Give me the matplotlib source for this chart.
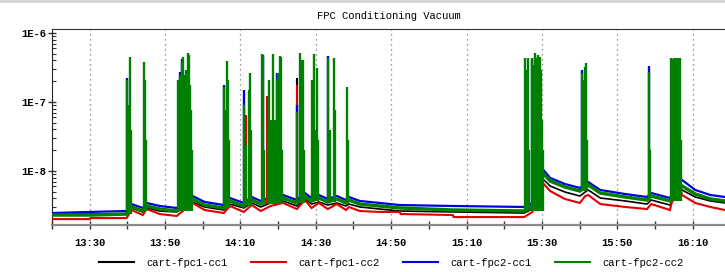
import datetime as dt
import numpy as np
import matplotlib
matplotlib.use("Agg")
import matplotlib.pyplot as plt
import matplotlib.dates as mdates
from matplotlib.ticker import FixedLocator, FuncFormatter, LogLocator, NullFormatter
from matplotlib.lines import Line2D

# ---------------- data (minutes after 13:20) ----------------
series_names = ["cart-fpc1-cc1", "cart-fpc1-cc2", "cart-fpc2-cc1", "cart-fpc2-cc2"]
series_colors = ["#000000", "#e00000", "#0000e6", "#008000"]

base_t = [0, 10, 10.2, 19.8, 21.1, 24.1, 25.1, 28.6, 33.1, 37.3, 40.5, 45.6, 47.2, 50.9,
          53.0, 55.4, 58.0, 61.3, 65.0, 67.1, 68.9, 70.8, 73.2, 75.6, 78.0, 78.8, 81.7,
          87.0, 92.3, 92.5, 106.4, 106.6, 125.3, 127.5, 129.0, 130.0, 132.2, 136.1, 140.1,
          141.5, 142.3, 145.5, 152.1, 157.9, 159.0, 164.0, 166.0, 167.2, 170.7, 174.7, 178.6]

black_base = [2.38e-9, 2.38e-9, 2.38e-9, 2.38e-9, 2.91e-9, 2.55e-9, 2.91e-9, 2.63e-9, 2.55e-9,
              3.56e-9, 3.01e-9, 2.72e-9, 3.32e-9, 2.91e-9, 3.44e-9, 3.01e-9, 3.44e-9, 3.68e-9,
              3.11e-9, 3.93e-9, 3.32e-9, 3.56e-9, 3.21e-9, 3.44e-9, 3.11e-9, 3.32e-9, 3.01e-9,
              2.81e-9, 2.63e-9, 2.63e-9, 2.55e-9, 2.55e-9, 2.46e-9, 2.81e-9, 6.70e-9, 7.92e-9,
              6.06e-9, 4.96e-9, 4.34e-9, 4.96e-9, 5.31e-9, 4.06e-9, 3.68e-9, 3.32e-9, 3.80e-9,
              3.21e-9, 4.64e-9, 5.31e-9, 4.20e-9, 3.68e-9, 3.44e-9]

red_base = [2.01e-9, 2.01e-9, 2.08e-9, 2.08e-9, 2.72e-9, 2.30e-9, 2.81e-9, 2.38e-9, 2.23e-9,
            3.44e-9, 2.72e-9, 2.46e-9, 3.11e-9, 2.55e-9, 3.21e-9, 2.63e-9, 3.11e-9, 3.44e-9,
            2.81e-9, 3.80e-9, 2.91e-9, 3.44e-9, 2.81e-9, 3.32e-9, 2.72e-9, 3.01e-9, 2.63e-9,
            2.55e-9, 2.55e-9, 2.38e-9, 2.30e-9, 2.15e-9, 2.15e-9, 2.55e-9, 2.01e-8, 6.93e-9,
            5.13e-9, 3.93e-9, 3.44e-9, 4.34e-9, 4.49e-9, 3.32e-9, 3.01e-9, 2.81e-9, 3.32e-9,
            2.72e-9, 7.92e-9, 4.49e-9, 3.44e-9, 3.01e-9, 2.72e-9]

blue_base = [2.46e-9, 2.55e-9, 2.55e-9, 2.63e-9, 3.32e-9, 2.91e-9, 3.44e-9, 3.11e-9, 2.91e-9,
             4.34e-9, 3.56e-9, 3.21e-9, 4.06e-9, 3.44e-9, 4.20e-9, 3.68e-9, 4.20e-9, 4.49e-9,
             3.80e-9, 4.80e-9, 4.06e-9, 4.49e-9, 3.93e-9, 4.34e-9, 3.80e-9, 4.20e-9, 3.68e-9,
             3.44e-9, 3.21e-9, 3.21e-9, 3.11e-9, 3.11e-9, 3.01e-9, 3.44e-9, 8.75e-9, 1.10e-8,
             7.92e-9, 6.48e-9, 5.68e-9, 6.48e-9, 6.93e-9, 5.31e-9, 4.64e-9, 4.20e-9, 4.80e-9,
             4.06e-9, 6.27e-9, 7.41e-9, 5.31e-9, 4.49e-9, 4.20e-9]

green_base = [2.30e-9, 2.30e-9, 2.30e-9, 2.38e-9, 3.01e-9, 2.63e-9, 3.11e-9, 2.81e-9, 2.63e-9,
              3.93e-9, 3.21e-9, 2.91e-9, 3.68e-9, 3.11e-9, 3.80e-9, 3.32e-9, 3.80e-9, 4.06e-9,
              3.44e-9, 4.34e-9, 3.68e-9, 4.06e-9, 3.56e-9, 3.93e-9, 3.44e-9, 3.80e-9, 3.32e-9,
              3.11e-9, 2.91e-9, 2.91e-9, 2.72e-9, 2.72e-9, 2.63e-9, 3.11e-9, 7.92e-9, 9.68e-9,
              7.16e-9, 5.87e-9, 5.13e-9, 5.87e-9, 6.27e-9, 4.80e-9, 4.20e-9, 3.80e-9, 4.34e-9,
              3.68e-9, 5.31e-9, 6.06e-9, 4.64e-9, 3.93e-9, 3.68e-9]

# pressure bursts (green trace), time / peak / foot level
spike_t = [19.95, 20.35, 20.74, 21.0,
           24.33, 24.73, 24.99,
           33.36, 33.6, 34.0, 34.3, 34.55, 34.8, 35.1, 35.4, 35.6, 35.9, 36.2, 36.4, 36.7, 37.0, 37.2,
           45.7, 46.1, 46.5, 46.8, 47.05,
           51.0, 51.5, 52.2, 52.5, 52.7,
           55.7, 56.1, 56.3, 57.3, 57.7, 58.1, 58.7, 59.1, 59.6, 60.0, 60.5, 60.8, 61.1,
           65.1, 65.9, 66.3, 66.6, 66.8,
           69.1, 69.6, 70.0, 70.4, 70.7,
           73.3, 73.7, 74.8, 75.1,
           78.2, 78.5,
           125.4, 125.7, 126.2, 126.5, 127.5, 127.8, 128.1, 128.3, 128.6, 128.9, 129.1, 129.4,
           129.7, 130.0, 130.2,
           140.7, 141.1, 141.5, 141.8, 142.0,
           158.3, 158.6,
           164.4, 164.7, 165.0, 165.3, 165.5, 165.8, 166.1, 166.3, 166.6, 166.8]

green_peak = [2.08e-7, 9.0e-8, 4.49e-7, 3.9e-8,
              3.80e-7, 2.08e-7, 2.8e-8,
              2.08e-7, 4.0e-8, 2.46e-7, 1.26e-7, 3.80e-7, 4.49e-7, 2.46e-7, 1.07e-7, 2.91e-7,
              1.49e-7, 5.1e-7, 4.8e-7, 1.76e-7, 7.6e-8, 2.0e-8,
              1.65e-7, 7.6e-8, 3.93e-7, 2.08e-7, 2.8e-8,
              9.0e-8, 2.38e-8, 1.49e-7, 2.63e-7, 3.9e-8,
              4.96e-7, 4.65e-7, 2.0e-8, 3.9e-8, 2.08e-7, 5.5e-8, 4.96e-7, 5.5e-8, 2.08e-7,
              2.63e-7, 4.65e-7, 4.49e-7, 2.0e-8,
              7.1e-8, 5.1e-7, 4.06e-7, 4.06e-7, 2.0e-8,
              2.08e-7, 4.96e-7, 3.9e-8, 3.11e-7, 2.8e-8,
              4.34e-7, 3.9e-8, 4.34e-7, 7.6e-8,
              1.65e-7, 2.8e-8,
              4.34e-7, 2.91e-7, 4.34e-7, 2.0e-8, 4.34e-7, 3.44e-7, 4.49e-7, 5.1e-7, 4.34e-7,
              4.8e-7, 3.80e-7, 4.49e-7, 2.91e-7, 5.5e-8, 2.0e-8,
              2.63e-7, 2.08e-7, 3.21e-7, 3.67e-7, 2.8e-8,
              2.72e-7, 2.0e-8,
              4.34e-7, 4.2e-7, 4.34e-7, 4.06e-7, 4.34e-7, 2.08e-7, 4.34e-7, 4.2e-7, 4.34e-7, 2.8e-8]

spike_foot = ([2.38e-9] * 4 + [2.63e-9] * 3 + [2.63e-9] * 15 + [2.91e-9] * 5 + [3.11e-9] * 5 +
              [3.32e-9] * 13 + [3.44e-9] * 5 + [3.68e-9] * 5 + [3.56e-9] * 4 + [3.44e-9] * 2 +
              [2.63e-9] * 15 + [5.13e-9] * 5 + [3.80e-9] * 2 + [3.68e-9] * 10)

# visible tips of the other traces
blue_tip_t = [19.95, 34.0, 34.55, 45.7, 51.0, 56.1, 59.8, 65.1, 73.3, 127.5, 140.7, 158.3]
blue_tip_v = [2.23e-7, 2.72e-7, 4.2e-7, 1.76e-7, 1.49e-7, 4.8e-7, 2.63e-7, 9.0e-8, 4.65e-7,
              4.06e-7, 2.91e-7, 3.32e-7]
blue_tip_foot = [2.38e-9, 2.63e-9, 2.63e-9, 2.91e-9, 3.11e-9, 3.32e-9, 3.32e-9, 3.44e-9,
                 3.56e-9, 2.63e-9, 5.13e-9, 3.80e-9]
red_tip_t = [51.5, 57.0, 65.1]
red_tip_v = [6.5e-8, 1.22e-7, 1.76e-7]
red_tip_foot = [3.11e-9, 3.32e-9, 3.44e-9]
black_tip_t = [65.1]
black_tip_v = [2.23e-7]
black_tip_foot = [3.44e-9]

START = dt.datetime(2012, 1, 1, 13, 20)
X_END_MIN = 178.6


def tnum(mins):
    return mdates.date2num([START + dt.timedelta(minutes=float(m)) for m in mins])


MONO = ["Liberation Mono", "DejaVu Sans Mono"]
FS = 7.6

fig = plt.figure(figsize=(7.25, 2.72), dpi=100)
ax = fig.add_axes([52 / 725, 1 - 225 / 272, 1 - 52 / 725, (225 - 29) / 272])
ax.set_yscale("log")

bases = [black_base, red_base, blue_base, green_base]
lws = [1.2, 1.5, 1.6, 2.5]
for i, b in enumerate(bases):
    ax.plot(tnum(base_t), b, color=series_colors[i], lw=lws[i], zorder=2 + i,
            solid_joinstyle="miter")

ax.vlines(tnum(black_tip_t), black_tip_foot, black_tip_v, color=series_colors[0], lw=1.5, zorder=6)
ax.vlines(tnum(red_tip_t), red_tip_foot, red_tip_v, color=series_colors[1], lw=1.5, zorder=6.1)
ax.vlines(tnum(blue_tip_t), blue_tip_foot, blue_tip_v, color=series_colors[2], lw=1.7, zorder=6.2)
ax.vlines(tnum(spike_t), spike_foot, green_peak, color=series_colors[3], lw=1.7, zorder=6.3)

ax.set_xlim(tnum([0, X_END_MIN]))
ax.set_ylim(1.65e-9, 1.14e-6)

# y axis
ax.yaxis.set_major_locator(FixedLocator([1e-8, 1e-7, 1e-6]))
ax.yaxis.set_major_formatter(FuncFormatter(lambda v, p: "1E%d" % int(round(np.log10(v)))))
ax.yaxis.set_minor_locator(LogLocator(base=10, subs=np.arange(2, 10)))
ax.yaxis.set_minor_formatter(NullFormatter())

# x axis
ax.xaxis.set_major_locator(mdates.MinuteLocator(byminute=[10, 30, 50]))
ax.xaxis.set_major_formatter(mdates.DateFormatter("%H:%M"))
ax.xaxis.set_minor_locator(mdates.MinuteLocator(byminute=[0, 20, 40]))

ax.tick_params(axis="both", which="both", direction="inout", color="#333333")
ax.tick_params(axis="x", which="both", length=6, width=1.0, pad=6)
ax.tick_params(axis="y", which="major", length=6, width=1.0, pad=1)
ax.tick_params(axis="y", which="minor", length=3, width=0.8, direction="in")
for lab in ax.get_xticklabels() + ax.get_yticklabels():
    lab.set_fontfamily(MONO)
    lab.set_fontsize(FS)
    lab.set_fontweight("bold")

ax.grid(axis="x", which="major", linestyle=(0, (1, 3)), color="#777777", lw=0.9)

ax.spines["right"].set_visible(False)
ax.spines["top"].set_color("#333333")
ax.spines["left"].set_color("#222222")
ax.spines["bottom"].set_color("#8a8a8a")
ax.spines["bottom"].set_linewidth(1.6)

ax.set_title("FPC Conditioning Vacuum", fontfamily=MONO, fontsize=FS, pad=7)

handles = [Line2D([], [], color=c, lw=1.5) for c in series_colors]
fig.legend(handles, series_names, loc="center", bbox_to_anchor=(0.54, 1 - 263 / 272),
           ncol=4, frameon=False, prop={"family": MONO, "size": FS},
           handlelength=3.3, handletextpad=1.2, columnspacing=2.2)

fig.add_artist(Line2D([0, 1], [1 - 1.2 / 272] * 2, color="#d4d4d4", lw=2.0,
                      transform=fig.transFigure))

fig.savefig("out.png", dpi=100)
